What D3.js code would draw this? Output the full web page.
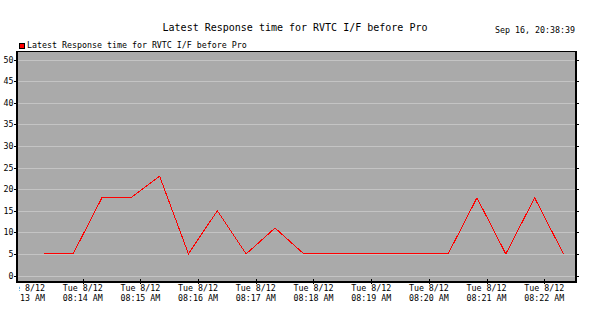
<!DOCTYPE html>
<html>
<head>
<meta charset="utf-8">
<script src="https://cdn.jsdelivr.net/npm/d3@7"></script>
<style>
  html, body { margin: 0; padding: 0; background: #ffffff; }
  svg { display: block; }
  text { font-family: "DejaVu Sans Mono", "Liberation Mono", monospace; fill: #000; }
</style>
</head>
<body>
<svg id="chart" width="616" height="333"></svg>
<script>
// Series: one sample every 30 seconds, starting 08:13:20
const seriesName = "Latest Response time for RVTC I/F before Pro";
const sampleStart = "2008-08-12T08:13:20";
const sampleStepSeconds = 30;
const responseTimes = [5, 5, 18, 18, 23, 5, 15, 5, 11, 5, 5, 5, 5, 5, 5, 18, 5, 18, 5];

// Axis ticks
const yTicks = [0, 5, 10, 15, 20, 25, 30, 35, 40, 45, 50];
const xTickTimes = ["08:13", "08:14", "08:15", "08:16", "08:17", "08:18", "08:19", "08:20", "08:21", "08:22"];
const timeDomain = ["2008-08-12T08:12:51.7", "2008-08-12T08:22:33"];
const yDomain = [-1.5, 52];
const stampText = "Sep 16, 20:38:39";

const W = 616, H = 333;
const plot = { left: 17, right: 576, top: 51, bottom: 282 };

const svg = d3.select("#chart");
const parse = d3.isoParse;

const t0 = parse(sampleStart);
const points = responseTimes.map((v, i) => ({
  t: new Date(t0.getTime() + i * sampleStepSeconds * 1000),
  v
}));

const x = d3.scaleTime()
  .domain(timeDomain.map(parse))
  .range([plot.left, plot.right]);
const y = d3.scaleLinear()
  .domain(yDomain)
  .range([plot.bottom, plot.top]);

// Plot background
svg.append("rect")
  .attr("x", plot.left).attr("y", plot.top)
  .attr("width", plot.right - plot.left).attr("height", plot.bottom - plot.top)
  .attr("fill", "#aaaaaa");

// Horizontal grid lines
svg.append("g")
  .attr("shape-rendering", "crispEdges")
  .selectAll("line").data(yTicks).join("line")
  .attr("x1", plot.left).attr("x2", plot.right)
  .attr("y1", d => Math.round(y(d)) + 0.5).attr("y2", d => Math.round(y(d)) + 0.5)
  .attr("stroke", "#c4c4c4").attr("stroke-width", 1);

// Series line
const line = d3.line().x(d => x(d.t)).y(d => y(d.v));
svg.append("path")
  .datum(points)
  .attr("d", line)
  .attr("fill", "none")
  .attr("stroke", "#ff0000")
  .attr("stroke-width", 1)
  .attr("shape-rendering", "crispEdges");

// Frame
const frame = svg.append("g").attr("shape-rendering", "crispEdges").attr("stroke", "#000");
frame.append("line").attr("x1", plot.left - 1).attr("x2", plot.right + 1).attr("y1", plot.top + 0.5).attr("y2", plot.top + 0.5).attr("stroke-width", 1);
frame.append("line").attr("x1", plot.left - 1).attr("x2", plot.right + 1).attr("y1", plot.bottom).attr("y2", plot.bottom).attr("stroke-width", 2);
frame.append("line").attr("x1", plot.left).attr("x2", plot.left).attr("y1", plot.top).attr("y2", plot.bottom + 1).attr("stroke-width", 2);
frame.append("line").attr("x1", plot.right).attr("x2", plot.right).attr("y1", plot.top).attr("y2", plot.bottom + 1).attr("stroke-width", 2);

// Y ticks on both sides, labels on the left
const yAxis = svg.append("g").attr("shape-rendering", "crispEdges");
yAxis.selectAll("line.l").data(yTicks).join("line").attr("class", "l")
  .attr("x1", plot.left - 3).attr("x2", plot.left)
  .attr("y1", d => Math.round(y(d)) + 0.5).attr("y2", d => Math.round(y(d)) + 0.5)
  .attr("stroke", "#000");
yAxis.selectAll("line.r").data(yTicks).join("line").attr("class", "r")
  .attr("x1", plot.right).attr("x2", plot.right + 3)
  .attr("y1", d => Math.round(y(d)) + 0.5).attr("y2", d => Math.round(y(d)) + 0.5)
  .attr("stroke", "#000");
yAxis.selectAll("text").data(yTicks).join("text")
  .attr("x", 13.5)
  .attr("y", d => y(d) + 3)
  .attr("text-anchor", "end")
  .attr("font-size", "8.3px")
  .text(d => d);

// X ticks and two-line time labels
const dayFmt = d3.timeFormat("%a %-m/%d");
const timeFmt = d3.timeFormat("%I:%M %p");
const xTicks = xTickTimes.map(s => parse("2008-08-12T" + s));

svg.append("defs").append("clipPath").attr("id", "xclip")
  .append("rect").attr("x", plot.left + 2).attr("y", 0).attr("width", W).attr("height", H);

const xAxis = svg.append("g");
xAxis.selectAll("line").data(xTicks.filter(d => x(d) - 20 >= plot.left)).join("line")
  .attr("shape-rendering", "crispEdges")
  .attr("x1", d => Math.round(x(d)) + 0.5).attr("x2", d => Math.round(x(d)) + 0.5)
  .attr("y1", plot.bottom - 3).attr("y2", plot.bottom + 2)
  .attr("stroke", "#000");
const xl = xAxis.append("g").attr("clip-path", "url(#xclip)")
  .selectAll("g").data(xTicks).join("g")
  .attr("transform", d => `translate(${x(d)},0)`);
xl.append("text").attr("y", 290.5).attr("text-anchor", "middle").attr("font-size", "8.3px").text(dayFmt);
xl.append("text").attr("y", 300.5).attr("text-anchor", "middle").attr("font-size", "8.3px").text(timeFmt);

// Title and timestamp
svg.append("text").attr("x", 295).attr("y", 30.5).attr("text-anchor", "middle")
  .attr("font-size", "10px").text(seriesName);
svg.append("text").attr("x", 575).attr("y", 32.5).attr("text-anchor", "end")
  .attr("font-size", "8.3px").text(stampText);

// Legend
svg.append("rect").attr("x", 19.5).attr("y", 43.5).attr("width", 5).attr("height", 5)
  .attr("fill", "#ff0000").attr("stroke", "#000").attr("shape-rendering", "crispEdges");
svg.append("text").attr("x", 27).attr("y", 47.5).attr("font-size", "8.3px").text(seriesName);
</script>
</body>
</html>
